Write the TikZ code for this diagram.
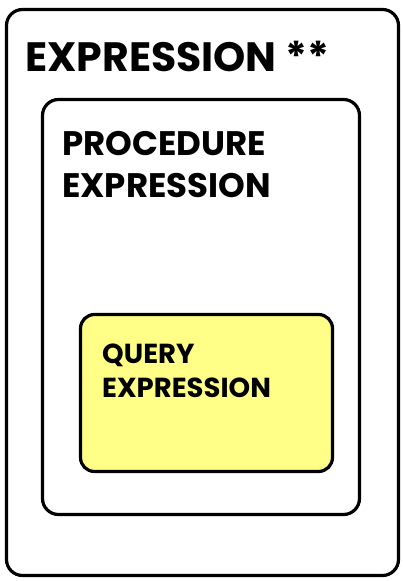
\documentclass[tikz,border=0pt]{standalone}
\usepackage{fontspec}
\setmainfont{Poppins}
\usetikzlibrary{positioning}

\definecolor{queryyellow}{HTML}{FFFF88}

\begin{document}
\begin{tikzpicture}
  [x=1pt,y=-1pt,
   box/.style={draw,line width=3.2pt,rounded corners=16pt,inner sep=0pt},
   label/.style={inner sep=0pt,anchor=base west,align=left,font=\bfseries}]

  \useasboundingbox (0,0) rectangle (402,581);

  \node[box,minimum width=392pt,minimum height=566pt] (outer)     at (202.5,292.5) {};
  \node[box,minimum width=317pt,minimum height=415pt] (procedure) at (201,307)     {};
  \node[box,fill=queryyellow,minimum width=252pt,minimum height=157pt,
        rounded corners=14pt]                         (query)     at (206.5,393)   {};

  % multi-line labels sit on the baseline of their last line
  \node[label,font=\bfseries\fontsize{41}{48}\selectfont] (outer label)
    at (25,71) {EXPRESSION **};
  \node[label,font=\bfseries\fontsize{34}{42}\selectfont] (procedure label)
    at (62,197) {PROCEDURE\\EXPRESSION};
  \node[label,font=\bfseries\fontsize{27.5}{34}\selectfont] (query label)
    at (102,397) {QUERY\\EXPRESSION};
\end{tikzpicture}
\end{document}
